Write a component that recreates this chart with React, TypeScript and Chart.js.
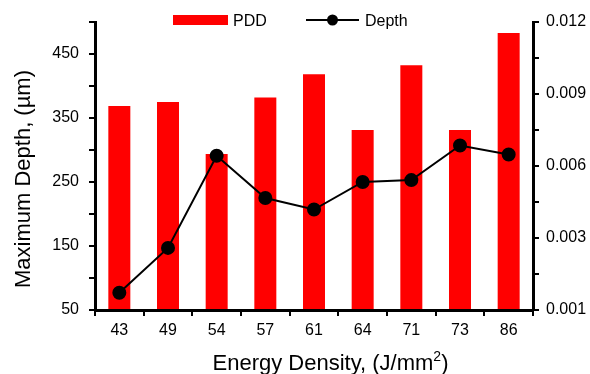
import React, { useEffect, useRef } from "react";
import { Chart, registerables } from "chart.js";

Chart.register(...registerables);

const categories = ["43", "49", "54", "57", "61", "64", "71", "73", "86"];
const pddValues = [0.0085, 0.00867, 0.0065, 0.00885, 0.00982, 0.0075, 0.0102, 0.0075, 0.01154];
const depthValues = [77, 147, 291, 225, 207, 250, 253, 307, 293];
const leftTickLabels = ["50", "", "150", "", "250", "", "350", "", "450", ""];
const rightTickLabels = ["0.001", "", "0.003", "", "0.006", "", "0.009", "", "0.012"];

const FONT = "'Liberation Sans', Arial, sans-serif";

const customDraw = {
  id: "customDraw",
  afterDraw(chart: any) {
    const ctx: CanvasRenderingContext2D = chart.ctx;
    ctx.save();
    // Legend
    ctx.fillStyle = "#ff0000";
    ctx.fillRect(173, 15, 55, 10);
    ctx.fillStyle = "#000";
    ctx.font = `16px ${FONT}`;
    ctx.textBaseline = "alphabetic";
    ctx.textAlign = "left";
    ctx.fillText("PDD", 233, 25.5);
    ctx.strokeStyle = "#000";
    ctx.lineWidth = 2;
    ctx.beginPath();
    ctx.moveTo(306, 20);
    ctx.lineTo(359, 20);
    ctx.stroke();
    ctx.beginPath();
    ctx.arc(332.5, 20, 5.5, 0, Math.PI * 2);
    ctx.fill();
    ctx.fillText("Depth", 365, 25.5);

    // X title with superscript
    const main = "Energy Density, (J/mm";
    const sup = "2";
    const close = ")";
    ctx.font = `22px ${FONT}`;
    const wMain = ctx.measureText(main).width;
    const wClose = ctx.measureText(close).width;
    ctx.font = `14px ${FONT}`;
    const wSup = ctx.measureText(sup).width;
    const total = wMain + wSup + wClose;
    const x0 = 330.5 - total / 2;
    const base = 370;
    ctx.font = `22px ${FONT}`;
    ctx.fillText(main, x0, base);
    ctx.font = `14px ${FONT}`;
    ctx.fillText(sup, x0 + wMain, base - 9);
    ctx.font = `22px ${FONT}`;
    ctx.fillText(close, x0 + wMain + wSup, base);

    // Y title
    ctx.translate(29.5, 179);
    ctx.rotate(-Math.PI / 2);
    ctx.textAlign = "center";
    ctx.fillText("Maximum Depth, (\u00b5m)", 0, 0);
    ctx.restore();
  },
};

export default function App() {
  const ref = useRef<HTMLCanvasElement>(null);
  useEffect(() => {
    const chart = new Chart(ref.current as HTMLCanvasElement, {
      type: "bar",
      data: {
        labels: categories,
        datasets: [
          {
            type: "line",
            label: "Depth",
            data: depthValues,
            yAxisID: "y",
            borderColor: "#000",
            backgroundColor: "#000",
            borderWidth: 2,
            pointRadius: 6,
            pointBackgroundColor: "#000",
            pointBorderColor: "#000",
            tension: 0,
            order: 1,
          } as any,
          {
            type: "bar",
            label: "PDD",
            data: pddValues,
            yAxisID: "y1",
            backgroundColor: "#ff0000",
            borderWidth: 0,
            barPercentage: 0.452,
            categoryPercentage: 1,
            order: 2,
          },
        ],
      },
      options: {
        responsive: false,
        animation: false,
        layout: { padding: { top: 22, left: 0, right: 0, bottom: 0 } },
        plugins: { legend: { display: false }, tooltip: { enabled: false } },
        scales: {
          x: {
            type: "category",
            grid: { offset: true, drawOnChartArea: false, drawTicks: true, tickLength: 6, color: "#000", lineWidth: 2 },
            border: { display: true, color: "#000", width: 3 },
            ticks: { color: "#000", font: { size: 16, family: FONT }, padding: 5, maxRotation: 0 },
            afterFit: (s: any) => {
              s.height = 64;
            },
          },
          y: {
            type: "linear",
            position: "left",
            min: 50,
            max: 500,
            grid: { drawOnChartArea: false, drawTicks: true, tickLength: 6, color: "#000", lineWidth: 2 },
            border: { display: true, color: "#000", width: 3 },
            ticks: {
              stepSize: 50,
              autoSkip: false,
              color: "#000",
              font: { size: 16, family: FONT },
              padding: 10,
              callback: (_v: any, i: number) => leftTickLabels[i] ?? "",
            },
            afterFit: (s: any) => {
              s.width = 95;
            },
          },
          y1: {
            type: "linear",
            position: "right",
            min: 0,
            max: 0.012,
            grid: { drawOnChartArea: false, drawTicks: true, tickLength: 6, color: "#000", lineWidth: 2 },
            border: { display: true, color: "#000", width: 3 },
            ticks: {
              stepSize: 0.0015,
              autoSkip: false,
              color: "#000",
              font: { size: 16, family: FONT },
              padding: 7,
              callback: (_v: any, i: number) => rightTickLabels[i] ?? "",
            },
            afterFit: (s: any) => {
              s.width = 57;
            },
          },
        },
      },
      plugins: [customDraw],
    } as any);
    return () => chart.destroy();
  }, []);
  return (
    <div style={{ position: "fixed", left: 0, top: 0, width: 590, height: 374, background: "#fff" }}>
      <canvas ref={ref} width={590} height={374} style={{ width: 590, height: 374, display: "block" }} />
    </div>
  );
}
